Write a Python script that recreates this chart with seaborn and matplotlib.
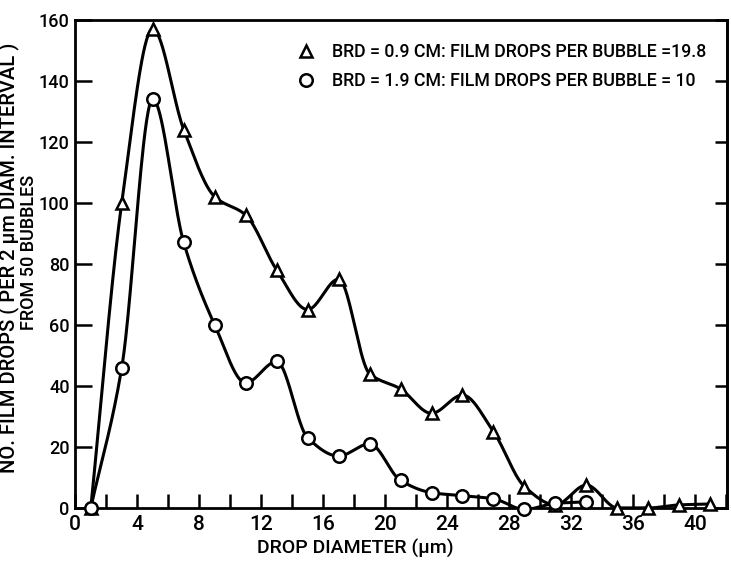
import numpy as np
import pandas as pd
import matplotlib
matplotlib.use("Agg")
import matplotlib.pyplot as plt
import seaborn as sns

# drop diameter bin centres (um)
diam_small = [1, 3, 5, 7, 9, 11, 13, 15, 17, 19, 21, 23, 25, 27, 29, 31, 33, 35, 37, 39, 41]
drops_small = [0, 100, 157, 124, 102, 96, 78, 65, 75, 44, 39, 31, 37, 25, 7, 1, 7.5, 0, 0, 1, 1.3]

diam_large = [1, 3, 5, 7, 9, 11, 13, 15, 17, 19, 21, 23, 25, 27, 29, 31, 33]
drops_large = [0, 46, 134, 87, 60, 41, 48, 23, 17, 21, 9, 5, 4, 3, -0.5, 1.5, 2]

label_small = "BRD = 0.9 CM: FILM DROPS PER BUBBLE =19.8"
label_large = "BRD = 1.9 CM: FILM DROPS PER BUBBLE = 10"
ylabel_1 = "NO. FILM DROPS ( PER 2 μm DIAM. INTERVAL )"
ylabel_2 = "FROM 50 BUBBLES"
xlabel = "DROP DIAMETER (μm)"


def pchip(x, y, n=40):
    # monotone cubic through the points, just for drawing the smooth hand-drawn look
    x = np.asarray(x, float)
    y = np.asarray(y, float)
    h = np.diff(x)
    d = np.diff(y) / h
    m = np.zeros_like(y)
    for i in range(1, len(y) - 1):
        if d[i - 1] * d[i] > 0:
            w1 = 2 * h[i] + h[i - 1]
            w2 = h[i] + 2 * h[i - 1]
            m[i] = (w1 + w2) / (w1 / d[i - 1] + w2 / d[i])
    m[0] = d[0]
    m[-1] = d[-1]
    xs, ys = [], []
    for i in range(len(x) - 1):
        t = np.linspace(0, 1, n, endpoint=False)
        h00 = 2 * t**3 - 3 * t**2 + 1
        h10 = t**3 - 2 * t**2 + t
        h01 = -2 * t**3 + 3 * t**2
        h11 = t**3 - t**2
        xs.append(x[i] + t * h[i])
        ys.append(h00 * y[i] + h10 * h[i] * m[i] + h01 * y[i + 1] + h11 * h[i] * m[i + 1])
    xs.append([x[-1]])
    ys.append([y[-1]])
    return np.concatenate(xs), np.concatenate(ys)


sns.set_theme(style="ticks")
plt.rcParams['font.family'] = ['Roboto', 'DejaVu Sans']
plt.rcParams['font.weight'] = 'medium'
plt.rcParams['text.color'] = 'black'
plt.rcParams['axes.labelcolor'] = 'black'
plt.rcParams['xtick.color'] = 'black'
plt.rcParams['ytick.color'] = 'black'

fig = plt.figure(figsize=(7.31, 5.65), dpi=100)
ax = fig.add_axes([0.103, 0.101, 0.892, 0.864])

for xd, yd, mk, ms, lab in [(diam_small, drops_small, '^', 8, label_small),
                            (diam_large, drops_large, 'o', 9, label_large)]:
    sx, sy = pchip(xd, yd)
    curve = pd.DataFrame({"x": sx, "y": sy})
    sns.lineplot(data=curve, x="x", y="y", ax=ax, color='black', lw=2.2,
                 sort=False, estimator=None, zorder=2)
    ax.plot(xd, yd, linestyle='none', marker=mk, ms=ms, mfc='white', mec='black',
            mew=1.8, zorder=3, label=lab, clip_on=False)

ax.set_xlim(0, 42.1)
ax.set_ylim(0, 160)
ax.set_xticks(np.arange(0, 42, 4))
ax.set_xticks(np.arange(0, 42.1, 2), minor=True)
ax.set_yticks(np.arange(0, 161, 20))
ax.tick_params(axis='x', which='both', direction='in', length=10, width=1.8,
               labelsize=15, pad=5, top=False)
ax.tick_params(axis='y', direction='in', length=12, width=1.8,
               labelsize=13, pad=4, right=False)

# inward ticks on the right-hand frame
sec = ax.secondary_yaxis('right')
sec.set_yticks(np.arange(0, 161, 20))
sec.tick_params(direction='in', length=9, width=1.8, labelright=False)
sec.spines['right'].set_linewidth(2)

for s in ax.spines.values():
    s.set_linewidth(2)
    s.set_color('black')

ax.set_xlabel("")
ax.set_ylabel("")
fig.text(355 / 731, 1 - 548 / 565, xlabel, fontsize=14, ha='center', va='center')
fig.text(9 / 731, 1 - 258 / 565, ylabel_1, rotation=90, fontsize=14.5,
         ha='center', va='center')
fig.text(29 / 731, 1 - 252 / 565, ylabel_2, rotation=90, fontsize=13,
         ha='center', va='center')

ax.legend(loc='upper left', bbox_to_anchor=(0.315, 0.985), frameon=False,
          fontsize=12.8, handletextpad=1.0, labelspacing=0.6, handlelength=1.0)

fig.savefig("out.png", dpi=100)
